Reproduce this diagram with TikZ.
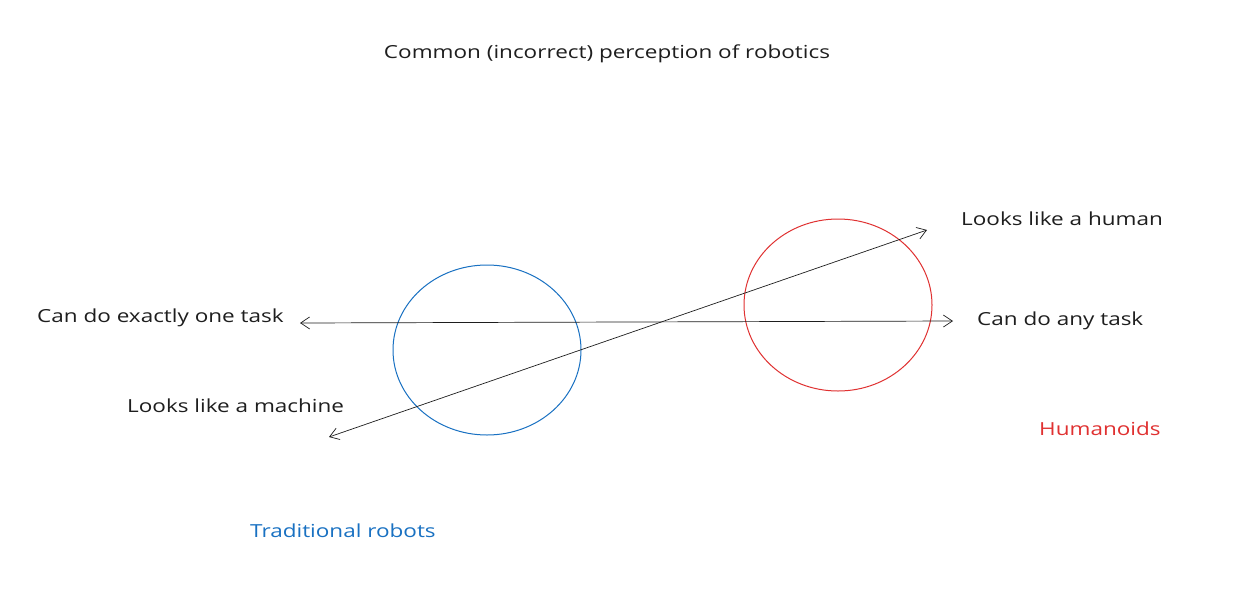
\documentclass[tikz,border=0pt]{standalone}
\usepackage{fontspec}
\usepackage{graphicx}
\setmainfont{Open Sans}
\usetikzlibrary{arrows.meta}
\definecolor{ink}{HTML}{1E1E1E}
\definecolor{eblue}{HTML}{1971C2}
\definecolor{ered}{HTML}{E03131}
\newcommand{\wtext}[1]{\scalebox{1.25}[1]{#1}}
\begin{document}
\begin{tikzpicture}[x=1pt,y=-1pt,
  lbl/.style={font=\fontsize{18}{20}\selectfont,text=ink,inner sep=0pt},
  arr/.style={draw=ink,line width=0.7pt,{Straight Barb[length=9pt,width=12pt]}-{Straight Barb[length=9pt,width=12pt]}}]
\useasboundingbox[fill=white] (0,0) rectangle (1244,600);
\node[lbl] (title) at (607,54) {\wtext{Common (incorrect) perception of robotics}};
\draw[eblue,line width=1pt] (487,350) ellipse [x radius=94,y radius=85];
\draw[ered,line width=1pt] (838,305) ellipse [x radius=94,y radius=86];
\coordinate (h1) at (300,323); \coordinate (h2) at (953,321);
\coordinate (d1) at (329,437); \coordinate (d2) at (927,230);
\draw[arr] (h1) -- (h2);
\draw[arr] (d1) -- (d2);
\node[lbl,anchor=west] (one) at (37,318) {\wtext{Can do exactly one task}};
\node[lbl,anchor=west] (any) at (977,321) {\wtext{Can do any task}};
\node[lbl,anchor=west] (human) at (961,219) {\wtext{Looks like a human}};
\node[lbl,anchor=west] (mach) at (127,406) {\wtext{Looks like a machine}};
\node[lbl,anchor=west,text=eblue] (trad) at (250,531) {\wtext{Traditional robots}};
\node[lbl,anchor=west,text=ered] (hum) at (1039,429) {\wtext{Humanoids}};
\end{tikzpicture}
\end{document}
